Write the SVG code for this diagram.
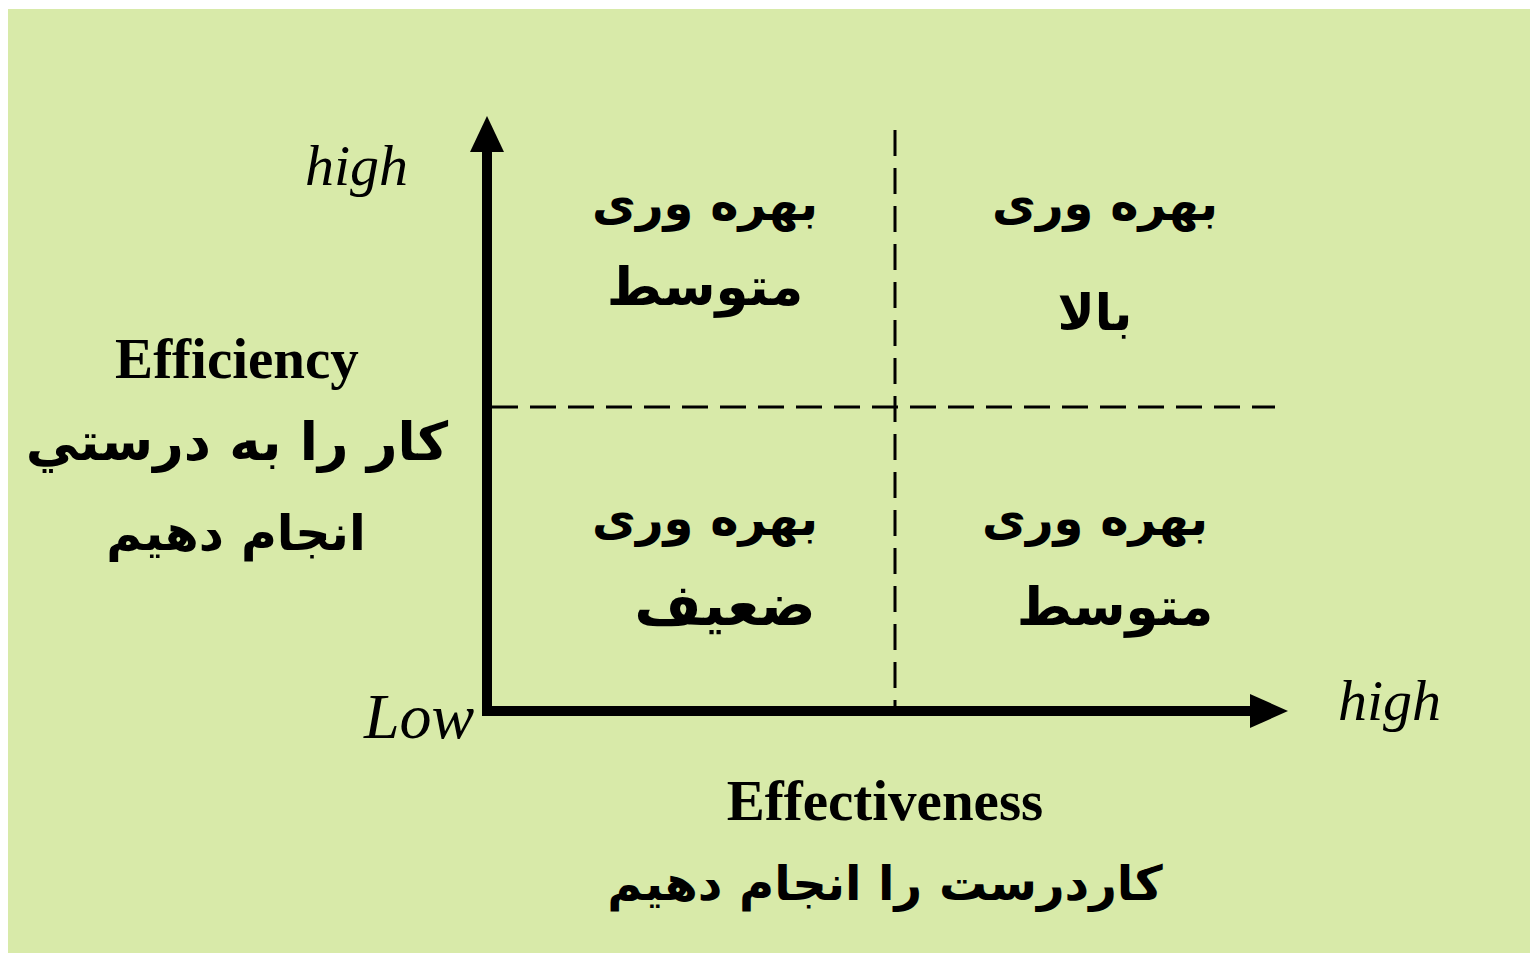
<svg xmlns="http://www.w3.org/2000/svg" width="1538" height="954" viewBox="0 0 1538 954">
<style>
.fa{font-family:"DejaVu Sans",sans-serif;font-weight:bold;font-size:54px;fill:#000;text-anchor:middle;direction:rtl}
.bv{font-size:48px}
.en{font-family:"Liberation Serif",serif;font-weight:bold;font-size:57px;fill:#000;text-anchor:middle}
.it{font-family:"Liberation Serif",serif;font-style:italic;font-size:58px;fill:#000}
.dash{stroke:#000;stroke-width:3;stroke-dasharray:26 12;fill:none}
.axis{stroke:#000;stroke-width:10;fill:none}
</style>
<rect x="0" y="0" width="1538" height="954" fill="#fff"/>
<rect x="8" y="9" width="1522" height="944" fill="#d8eaa9"/>
<g id="connectors">
<line class="dash" x1="492" y1="407" x2="1275" y2="407"/>
<line class="dash" x1="895" y1="130" x2="895" y2="708"/>
<polyline class="axis" points="487,148 487,711 1255,711"/>
<polygon points="487,116 470,152 504,152" fill="#000"/>
<polygon points="1288,711 1250,694 1250,728" fill="#000"/>
</g>
<g id="axis-labels">
<text class="it" x="305" y="185">high</text>
<text class="it" x="1338" y="720">high</text>
<text class="it" x="364" y="738" style="font-size:64px">Low</text>
</g>
<g id="efficiency">
<text class="en" x="237" y="378">Efficiency</text>
<text class="fa" x="237" y="460" style="font-size:53px">کار را به درستي</text>
<text class="fa" x="236" y="550" style="font-size:49px">انجام دهیم</text>
</g>
<g id="effectiveness">
<text class="en" x="885" y="820">Effectiveness</text>
<text class="fa" x="885" y="900" style="font-size:48px">کاردرست را انجام دهیم</text>
</g>
<g id="q-top-left">
<text class="fa bv" x="705" y="220">بهره وری</text>
<text class="fa" x="705" y="305" style="font-size:53px">متوسط</text>
</g>
<g id="q-top-right">
<text class="fa bv" x="1105" y="220">بهره وری</text>
<text class="fa" x="1095" y="330" style="font-size:50px">بالا</text>
</g>
<g id="q-bottom-left">
<text class="fa bv" x="705" y="535">بهره وری</text>
<text class="fa" x="725" y="625" style="font-size:58px">ضعیف</text>
</g>
<g id="q-bottom-right">
<text class="fa bv" x="1095" y="535">بهره وری</text>
<text class="fa" x="1115" y="625" style="font-size:53px">متوسط</text>
</g>
</svg>
